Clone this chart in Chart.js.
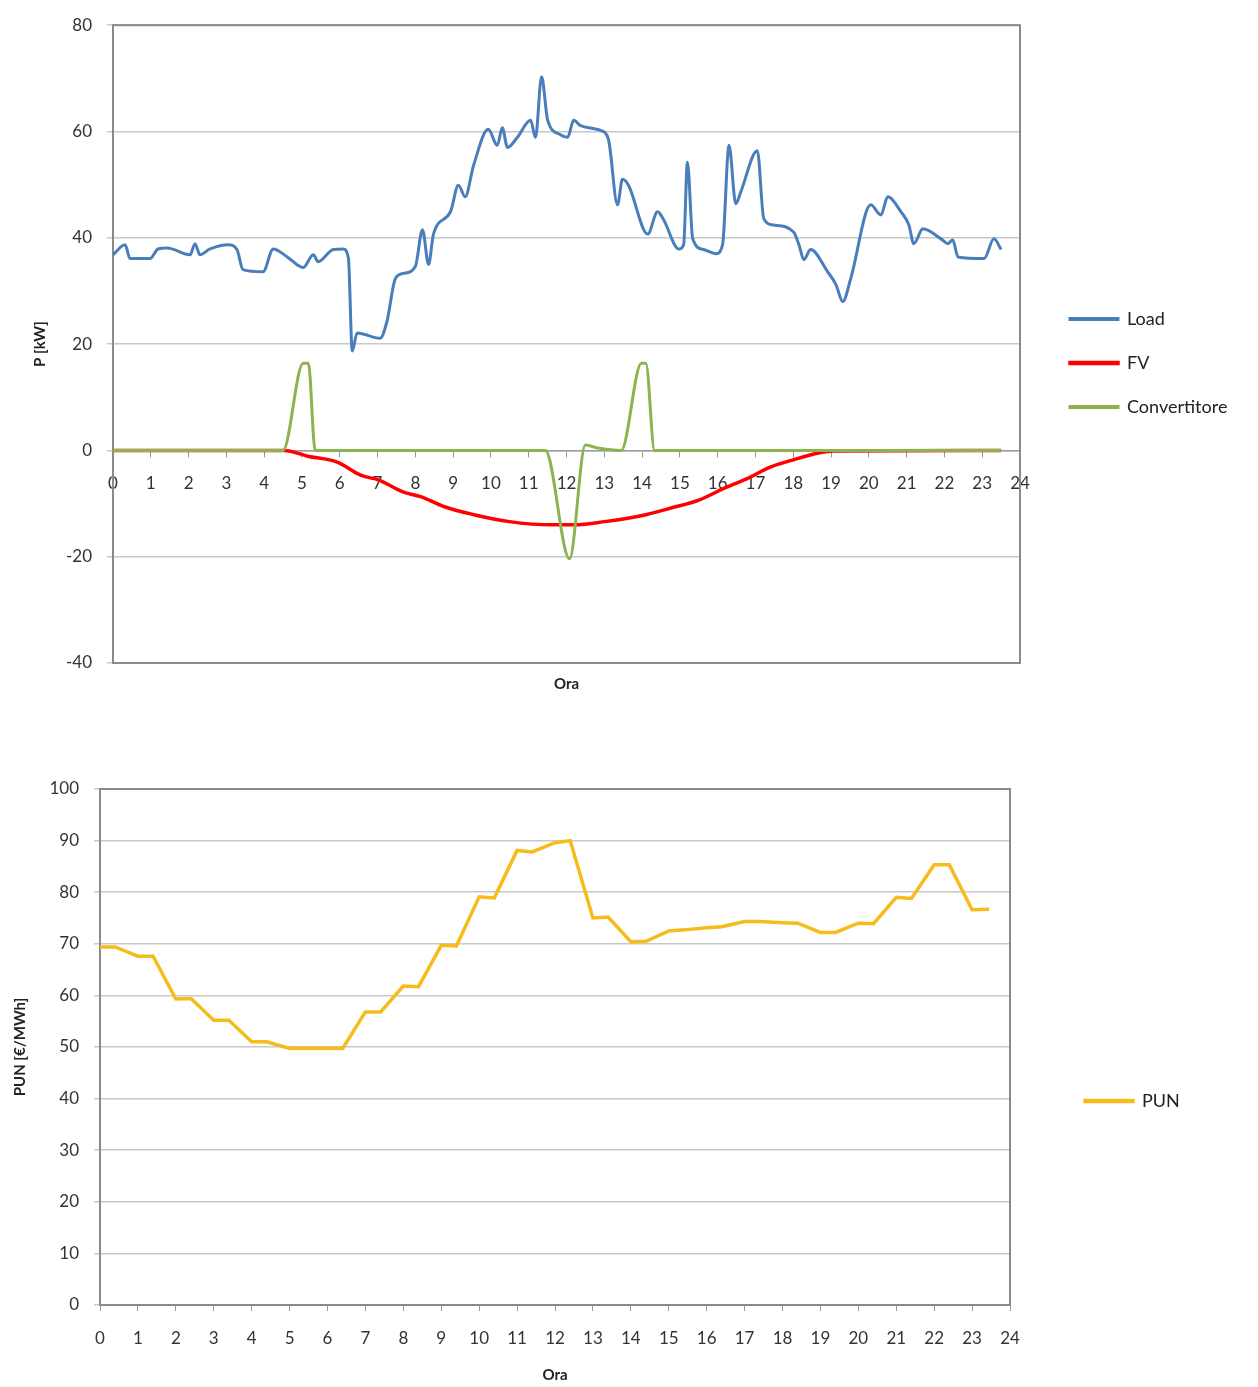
<!DOCTYPE html>
<html>
<head>
<meta charset="utf-8">
<script src="https://cdn.jsdelivr.net/npm/chart.js@4.4.1/dist/chart.umd.min.js"></script>
<style>
    body { margin: 0; background: #fff; }
    #powerChart { position: absolute; left: 0; top: 0; }
    #punChart { position: absolute; left: 0; top: 740px; }
</style>
</head>
<body>
<canvas id="powerChart" width="1258" height="700"></canvas>
<canvas id="punChart" width="1258" height="647"></canvas>
<script>

// --- upper chart: power profiles [kW] vs hour ---
const loadHours = [
    0, 0.32, 0.45, 0.98, 1.19, 1.43, 2.04, 2.17, 2.30, 2.57,
    3.05, 3.28, 3.44, 3.97, 4.24, 4.61, 5.03, 5.30, 5.43, 5.83,
    6.09, 6.23, 6.33, 6.46, 7.07, 7.25, 7.47, 7.68, 8.00, 8.19,
    8.35, 8.48, 8.93, 9.14, 9.32, 9.54, 9.93, 10.17, 10.30, 10.44,
    10.70, 11.05, 11.18, 11.34, 11.50, 11.84, 12.03, 12.19, 12.37, 12.90,
    13.11, 13.35, 13.48, 13.64, 14.15, 14.41, 14.57, 14.97, 15.10, 15.20,
    15.34, 15.63, 15.95, 16.13, 16.30, 16.48, 16.61, 17.05, 17.22, 17.48,
    18.01, 18.15, 18.28, 18.46, 18.91, 19.13, 19.31, 19.52, 20.05, 20.32,
    20.50, 20.85, 21.06, 21.19, 21.43, 21.91, 22.09, 22.22, 22.36, 23.05,
    23.31, 23.50
];
const loadValues = [
    36.8, 38.7, 36.1, 36.1, 37.9, 38.1, 36.8, 38.9, 36.8, 37.9,
    38.7, 37.8, 34.0, 33.6, 37.9, 36.4, 34.4, 36.8, 35.5, 37.8,
    37.9, 36.1, 18.7, 22.1, 21.1, 24.3, 32.3, 33.3, 34.6, 41.5,
    35.0, 40.7, 44.9, 49.9, 47.7, 53.6, 60.4, 57.4, 60.7, 57.0,
    58.9, 62.1, 58.9, 70.3, 62.2, 59.4, 58.9, 62.1, 61.1, 60.2,
    58.5, 46.2, 51.0, 49.9, 40.7, 44.9, 43.4, 37.9, 38.7, 54.2,
    39.8, 37.8, 37.0, 38.7, 57.4, 46.4, 48.6, 56.4, 43.6, 42.4,
    41.1, 38.7, 35.9, 37.8, 33.6, 31.2, 28.0, 32.3, 46.2, 44.3,
    47.7, 44.9, 42.4, 38.9, 41.7, 39.8, 38.9, 39.6, 36.4, 36.1,
    39.8, 37.8
];

const fvHours = [0, 4.53, 5.15, 5.93, 6.57, 7.04, 7.67, 8.14, 8.77, 9.55, 10.49, 11.6,
    12.22, 13.01, 14.1, 14.73, 15.52, 16.15, 16.78, 17.41, 18.04, 18.67, 19.06, 23.5];
const fvValues = [0, 0, -1.1, -2.2, -4.7, -5.6, -7.8, -8.7, -10.6, -12.1, -13.4, -14.0,
    -14.0, -13.4, -12.1, -10.9, -9.3, -7.2, -5.3, -3.1, -1.7, -0.5, -0.1, 0];

const convHours = [0, 4.5, 5.03, 5.17, 5.35, 11.44, 12.08, 12.5, 12.8, 13.45, 13.98, 14.1, 14.33, 23.5];
const convValues = [0, 0, 16.4, 16.4, 0, 0, -20.4, 1.0, 0.5, 0, 16.4, 16.4, 0, 0];

const powerTicksY = [-40, 80, 20];   // min, max, step

// --- lower chart: PUN price [€/MWh] vs hour ---
const punHours = [0, 0.4, 1, 1.4, 2, 2.4, 3, 3.4, 4, 4.4, 5, 5.4, 6, 6.4, 7, 7.4,
    8, 8.4, 9, 9.4, 10, 10.4, 11, 11.4, 12, 12.4, 13, 13.4, 14, 14.4, 15, 15.4,
    16, 16.4, 17, 17.4, 18, 18.4, 19, 19.4, 20, 20.4, 21, 21.4, 22, 22.4, 23, 23.45];
const punValues = [69.4, 69.4, 67.6, 67.6, 59.3, 59.4, 55.2, 55.2, 51.0, 51.0, 49.7, 49.7, 49.7, 49.7, 56.8, 56.8,
    61.8, 61.7, 69.7, 69.6, 79.1, 78.9, 88.1, 87.8, 89.6, 90.0, 75.0, 75.2, 70.4, 70.5, 72.5, 72.7,
    73.1, 73.3, 74.3, 74.3, 74.1, 74.0, 72.2, 72.2, 74.0, 73.9, 79.0, 78.8, 85.3, 85.3, 76.6, 76.7];

const punTicksY = [0, 100, 10];

const toPoints = (xs, ys) => xs.map((x, i) => ({ x: x, y: ys[i] }));

const FONT = "Lato, 'Open Sans', sans-serif";
const tickFont = { family: FONT, size: 17 };
const titleFont = { family: FONT, size: 15, weight: 'bold' };
const legendFont = { family: FONT, size: 18 };

// outline of the plot area (Excel-like frame)
const plotFrame = {
    id: 'plotFrame',
    beforeDatasetsDraw(chart, args, opts) {
        const { ctx, chartArea: a } = chart;
        ctx.save();
        ctx.strokeStyle = opts.color || '#888';
        ctx.lineWidth = opts.width || 2;
        ctx.strokeRect(a.left, a.top, a.right - a.left, a.bottom - a.top);
        ctx.restore();
    }
};

// put the legend where the original had it (box reaches the canvas edge so nothing is clipped)
const legendMover = {
    id: 'legendMover',
    afterLayout(chart, args, opts) {
        const lg = chart.legend;
        if (!lg || opts.left == null) return;
        const h = lg.bottom - lg.top;
        lg.left = opts.left;
        lg.right = chart.width;
        lg.top = opts.centerY - h / 2;
        lg.bottom = lg.top + h;
    }
};

const lineDataset = (label, pts, color, width, order) => ({
    label: label,
    data: pts,
    borderColor: color,
    backgroundColor: color,
    borderWidth: width,
    pointRadius: 0,
    cubicInterpolationMode: 'monotone',
    order: order
});

new Chart(document.getElementById('powerChart'), {

    type: 'line',

    data: {
        datasets: [
            lineDataset('Load', toPoints(loadHours, loadValues), '#4a7ebb', 3, 2),
            lineDataset('FV', toPoints(fvHours, fvValues), '#ff0000', 3.5, 1),
            lineDataset('Convertitore', toPoints(convHours, convValues), '#8db350', 3, 0)
        ]
    },

    options: {
        responsive: false,
        animation: false,
        layout: { padding: { top: 22, right: 98, left: 0, bottom: 0 } },

        plugins: {
            legend: {
                position: 'right',
                maxWidth: 140,
                labels: {
                    boxWidth: 48,
                    boxHeight: 1,
                    padding: 26,
                    color: '#222',
                    font: legendFont,
                    sort: (a, b) => a.datasetIndex - b.datasetIndex
                }
            },
            tooltip: { enabled: false },
            plotFrame: { color: '#8a8a8a', width: 2 },
            legendMover: { left: 1044, centerY: 363 }
        },

        scales: {
            x: {
                type: 'linear',
                min: 0,
                max: 24,
                position: { y: 0 },
                ticks: { stepSize: 1, autoSkip: false, maxRotation: 0, padding: 17, color: '#333', font: tickFont },
                grid: { drawOnChartArea: false, tickLength: 6, color: '#999' },
                border: { color: '#9a9a9a', width: 1.5 }
            },
            x2: {
                type: 'linear',
                min: 0,
                max: 24,
                position: 'bottom',
                ticks: { display: false },
                grid: { display: false },
                border: { display: false },
                title: { display: true, text: 'Ora', color: '#222', font: titleFont, padding: { top: 0, bottom: 7 } },
                afterFit: s => { s.height = 37; }
            },
            y: {
                min: powerTicksY[0],
                max: powerTicksY[1],
                ticks: { stepSize: powerTicksY[2], padding: 15, color: '#333', font: tickFont },
                grid: { color: '#c8c8c8', lineWidth: 1.5, tickLength: 6 },
                border: { color: '#9a9a9a', width: 1.5 },
                title: { display: true, text: 'P [kW]', color: '#222', font: titleFont, padding: { top: 31, bottom: 0 } },
                afterFit: s => { s.width = 113; }
            }
        }
    },

    plugins: [plotFrame, legendMover]
});

new Chart(document.getElementById('punChart'), {

    type: 'line',

    data: {
        datasets: [
            {
                label: 'PUN',
                data: toPoints(punHours, punValues),
                borderColor: '#f5bc1c',
                backgroundColor: '#f5bc1c',
                borderWidth: 3.5,
                pointRadius: 0,
                tension: 0
            }
        ]
    },

    options: {
        responsive: false,
        animation: false,
        layout: { padding: { top: 49, right: 158, left: 0, bottom: 0 } },

        plugins: {
            legend: {
                position: 'right',
                maxWidth: 90,
                labels: { boxWidth: 48, boxHeight: 1, padding: 26, color: '#222', font: legendFont }
            },
            tooltip: { enabled: false },
            plotFrame: { color: '#8a8a8a', width: 2 },
            legendMover: { left: 1059, centerY: 361 }
        },

        scales: {
            x: {
                type: 'linear',
                min: 0,
                max: 24,
                ticks: { stepSize: 1, autoSkip: false, maxRotation: 0, padding: 17, color: '#333', font: tickFont },
                grid: { drawOnChartArea: false, tickLength: 6, color: '#999' },
                border: { color: '#9a9a9a', width: 1.5 },
                title: { display: true, text: 'Ora', color: '#222', font: titleFont, padding: { top: 0, bottom: 3 } },
                afterFit: s => { s.height = 82; }
            },
            y: {
                min: punTicksY[0],
                max: punTicksY[1],
                ticks: { stepSize: punTicksY[2], padding: 15, color: '#333', font: tickFont },
                grid: { color: '#c8c8c8', lineWidth: 1.5, tickLength: 6 },
                border: { color: '#9a9a9a', width: 1.5 },
                title: { display: true, text: 'PUN [€/MWh]', color: '#222', font: titleFont, padding: { top: 11, bottom: 0 } },
                afterFit: s => { s.width = 100; }
            }
        }
    },

    plugins: [plotFrame, legendMover]
});

</script>
</body>
</html>
